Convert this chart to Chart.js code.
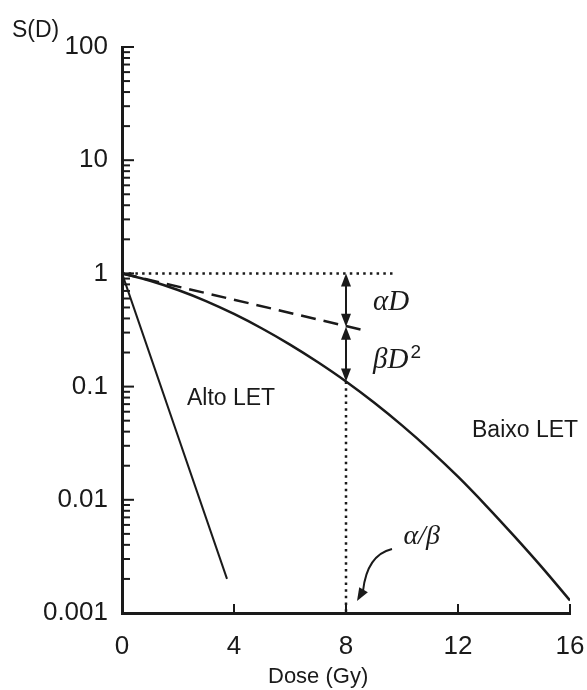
<!DOCTYPE html>
<html>
<head>
<meta charset="utf-8">
<script src="https://cdn.jsdelivr.net/npm/chart.js@4.4.0/dist/chart.umd.min.js"></script>
<style>
    html, body { margin: 0; padding: 0; background: #fff; }
</style>
</head>
<body>
<canvas id="survivalChart" width="587" height="690"></canvas>
<script>
// Readings taken from the figure: survival fraction S(D) against dose in Gy.
const doses = [0, 1, 2, 3, 4, 5, 6, 7, 8, 9, 10, 11, 12, 13, 14, 15, 16];
const lowLET = [1, 0.861, 0.713, 0.569, 0.438, 0.326, 0.235, 0.164, 0.111, 0.0723, 0.0454, 0.0275, 0.016, 0.0089, 0.0048, 0.00253, 0.00129];

const highLETDoses = [0, 3.75];
const highLET = [1, 0.002];

// linear (alpha) component only, dashed
const alphaDoses = [0, 8.75];
const alphaOnly = [1, 0.31];

// dotted guides: S = 1 reference and the alpha/beta dose
const refDoses = [0, 9.8];
const refLevel = [1, 1];
const abDoses = [8, 8];
const abLevel = [0.111, 0.001];

const xTicks = [0, 4, 8, 12, 16];
const yTicks = [0.001, 0.01, 0.1, 1, 10, 100];
const yTickLabels = ['0.001', '0.01', '0.1', '1', '10', '100'];

const ink = '#1a1a1a';
const sans = '"Liberation Sans", Arial, sans-serif';
const serif = '"Liberation Serif", "Times New Roman", serif';

function pairs(xs, ys) {
    return xs.map((x, i) => ({ x: x, y: ys[i] }));
}

function isDecade(v) {
    return yTicks.findIndex(t => Math.abs(t - v) / t < 1e-6);
}

// filled arrowhead whose tip is at (x, y), pointing along angle
function arrowHead(ctx, x, y, angle, len, half) {
    ctx.save();
    ctx.translate(x, y);
    ctx.rotate(angle);
    ctx.beginPath();
    ctx.moveTo(0, 0);
    ctx.lineTo(-len, -half);
    ctx.lineTo(-len, half);
    ctx.closePath();
    ctx.fill();
    ctx.restore();
}

function doubleArrow(ctx, x, yTop, yBottom) {
    ctx.beginPath();
    ctx.moveTo(x, yTop + 6);
    ctx.lineTo(x, yBottom - 6);
    ctx.stroke();
    arrowHead(ctx, x, yTop, -Math.PI / 2, 13, 5);
    arrowHead(ctx, x, yBottom, Math.PI / 2, 13, 5);
}

const annotations = {
    id: 'annotations',
    afterDraw(chart) {
        const { ctx, chartArea, scales: { x, y } } = chart;
        ctx.save();
        ctx.strokeStyle = ink;
        ctx.fillStyle = ink;
        ctx.lineWidth = 2;

        // inward ticks on the dose axis
        xTicks.slice(1).forEach(v => {
            const px = x.getPixelForValue(v);
            ctx.beginPath();
            ctx.moveTo(px, chartArea.bottom);
            ctx.lineTo(px, chartArea.bottom - 9);
            ctx.stroke();
        });

        // inward major and minor ticks on the log axis
        y.ticks.forEach(t => {
            const py = y.getPixelForValue(t.value);
            const len = isDecade(t.value) >= 0 ? 12 : 8;
            ctx.beginPath();
            ctx.moveTo(chartArea.left, py);
            ctx.lineTo(chartArea.left + len, py);
            ctx.stroke();
        });

        // alpha D and beta D^2 arrows at the alpha/beta dose
        const ax = x.getPixelForValue(abDoses[0]);
        const yOne = y.getPixelForValue(refLevel[0]);
        const yAlpha = y.getPixelForValue(0.338);
        const yCurve = y.getPixelForValue(abLevel[0]);
        doubleArrow(ctx, ax, yOne, yAlpha);
        doubleArrow(ctx, ax, yAlpha, yCurve);

        // Greek labels
        ctx.textBaseline = 'middle';
        ctx.textAlign = 'left';
        ctx.font = 'italic 29px ' + serif;
        ctx.fillText('\u03b1D', ax + 27, y.getPixelForValue(0.56));
        const bY = y.getPixelForValue(0.172);
        ctx.fillText('\u03b2D', ax + 27, bY);
        const bW = ctx.measureText('\u03b2D').width;
        ctx.font = '19px ' + sans;
        ctx.fillText('2', ax + 29 + bW, bY - 7);

        ctx.font = 'italic 28px ' + serif;
        ctx.fillText('\u03b1/\u03b2', x.getPixelForValue(10.05), y.getPixelForValue(0.0047));

        // curved arrow pointing at the alpha/beta dose on the axis
        const tipX = ax + 11;
        const tipY = chartArea.bottom - 12;
        ctx.beginPath();
        ctx.moveTo(tipX + 35, tipY - 52);
        ctx.quadraticCurveTo(tipX + 10, tipY - 46, tipX + 6, tipY - 10);
        ctx.stroke();
        arrowHead(ctx, tipX, tipY, Math.atan2(12, -7), 13, 5);

        // curve names
        ctx.font = '23px ' + sans;
        ctx.fillText('Alto LET', x.getPixelForValue(2.32), y.getPixelForValue(0.079));
        ctx.fillText('Baixo LET', x.getPixelForValue(12.5), y.getPixelForValue(0.0405));

        // axis titles
        ctx.fillText('S(D)', chartArea.left - 110, chartArea.top - 16);
        ctx.font = '22px ' + sans;
        ctx.fillText('Dose (Gy)', chartArea.left + 146, chartArea.bottom + 64);
        ctx.restore();
    }
};

const lineStyle = { pointRadius: 0, borderColor: ink, fill: false, tension: 0 };

new Chart(document.getElementById('survivalChart'), {
    type: 'line',
    data: {
        datasets: [
            { ...lineStyle, label: 'Baixo LET', data: pairs(doses, lowLET), borderWidth: 2.5, cubicInterpolationMode: 'monotone' },
            { ...lineStyle, label: 'Alto LET', data: pairs(highLETDoses, highLET), borderWidth: 2 },
            { ...lineStyle, label: 'alpha D', data: pairs(alphaDoses, alphaOnly), borderWidth: 2.5, borderDash: [15, 8] },
            { ...lineStyle, label: 'S = 1', data: pairs(refDoses, refLevel), borderWidth: 2.5, borderDash: [2.5, 4.2] },
            { ...lineStyle, label: 'alpha/beta', data: pairs(abDoses, abLevel), borderWidth: 2.5, borderDash: [2.5, 4.2] }
        ]
    },
    options: {
        responsive: false,
        animation: false,
        devicePixelRatio: 1,
        layout: { padding: { top: 47, right: 17, left: 0, bottom: 0 } },
        plugins: { legend: { display: false }, tooltip: { enabled: false } },
        scales: {
            x: {
                type: 'linear',
                min: xTicks[0],
                max: xTicks[xTicks.length - 1],
                afterBuildTicks: scale => { scale.ticks = xTicks.map(v => ({ value: v })); },
                afterFit: scale => {
                    scale.height = 77;
                    scale.paddingLeft = 0;
                    scale.paddingRight = 0;
                },
                grid: { display: false, drawTicks: false },
                border: { display: true, color: ink, width: 3 },
                ticks: { color: ink, font: { family: sans, size: 26 }, padding: 18, maxRotation: 0 }
            },
            y: {
                type: 'logarithmic',
                min: yTicks[0],
                max: yTicks[yTicks.length - 1],
                afterBuildTicks: scale => {
                    const list = [];
                    yTicks.forEach((decade, i) => {
                        list.push({ value: decade });
                        if (i < yTicks.length - 1) {
                            for (let m = 2; m <= 9; m++) list.push({ value: decade * m });
                        }
                    });
                    scale.ticks = list;
                },
                afterFit: scale => {
                    scale.width = 122;
                    scale.paddingTop = 0;
                    scale.paddingBottom = 0;
                },
                grid: { display: false, drawTicks: false },
                border: { display: true, color: ink, width: 3 },
                ticks: {
                    color: ink,
                    autoSkip: false,
                    font: { family: sans, size: 26 },
                    padding: 14,
                    callback: value => {
                        const i = isDecade(value);
                        return i >= 0 ? yTickLabels[i] : '';
                    }
                }
            }
        }
    },
    plugins: [annotations]
});
</script>
</body>
</html>
